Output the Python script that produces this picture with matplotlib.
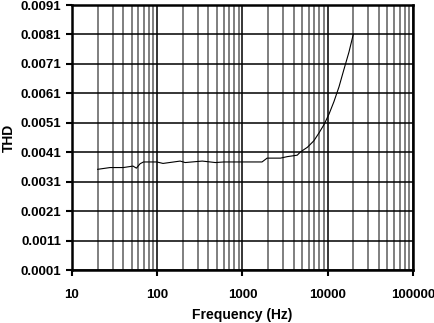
import matplotlib.pyplot as plt
from matplotlib.ticker import FixedLocator, LogLocator, NullFormatter

plt.rcParams['font.family'] = ['Liberation Sans', 'DejaVu Sans']

# THD vs frequency
freq = [20, 28, 40, 52, 57, 63, 69, 99, 117, 186, 213, 338, 482, 603, 947,
        1700, 1950, 2560, 2800, 3350, 4400, 4800, 5800, 6900, 7900, 9080,
        10400, 11870, 13600, 15500, 17800, 20000]
thd = [0.00352, 0.00358, 0.00358, 0.00363, 0.00356, 0.00371, 0.00377,
       0.00377, 0.00372, 0.0038, 0.00375, 0.0038, 0.00375, 0.00377, 0.00377,
       0.00377, 0.0039, 0.0039, 0.0039, 0.00395, 0.0040, 0.00411, 0.00427,
       0.00449, 0.00475, 0.00504, 0.0054, 0.00582, 0.00632, 0.0069, 0.0075,
       0.0081]

yticks = [0.0001, 0.0011, 0.0021, 0.0031, 0.0041, 0.0051, 0.0061, 0.0071,
          0.0081, 0.0091]
xticks = [10, 100, 1000, 10000, 100000]

fig = plt.figure(figsize=(4.35, 3.23), dpi=100)
ax = fig.add_axes([0.1655, 0.164, 0.7835, 0.8205])

ax.plot(freq, thd, color='black', linewidth=0.8)

ax.set_xscale('log')
ax.set_xlim(10, 100000)
ax.set_ylim(0.0001, 0.0091)
ax.xaxis.set_major_locator(FixedLocator(xticks))
ax.set_xticklabels([str(t) for t in xticks])
ax.xaxis.set_minor_locator(LogLocator(base=10, subs=range(2, 10)))
ax.xaxis.set_minor_formatter(NullFormatter())
ax.set_yticks(yticks)
ax.set_yticklabels(['%.4f' % t for t in yticks])

ax.grid(which='major', axis='both', color='black', linewidth=1.1)
ax.grid(which='minor', axis='x', color='#6a6a6a', linewidth=1.2)

for s in ax.spines.values():
    s.set_linewidth(1.8)

ax.tick_params(axis='both', which='major', direction='out', length=4,
               width=1.5, labelsize=9.5, pad=4)
ax.tick_params(axis='x', which='major', pad=10)
ax.tick_params(axis='x', which='minor', length=0)
for lab in ax.get_xticklabels() + ax.get_yticklabels():
    lab.set_fontweight('bold')

ax.set_xlabel('Frequency (Hz)', fontsize=10, fontweight='bold')
ax.set_ylabel('THD', fontsize=10, fontweight='bold')
ax.xaxis.set_label_coords(0.5, -0.145)
ax.yaxis.set_label_coords(-0.165, 0.5)

fig.savefig('out.png', dpi=100)
